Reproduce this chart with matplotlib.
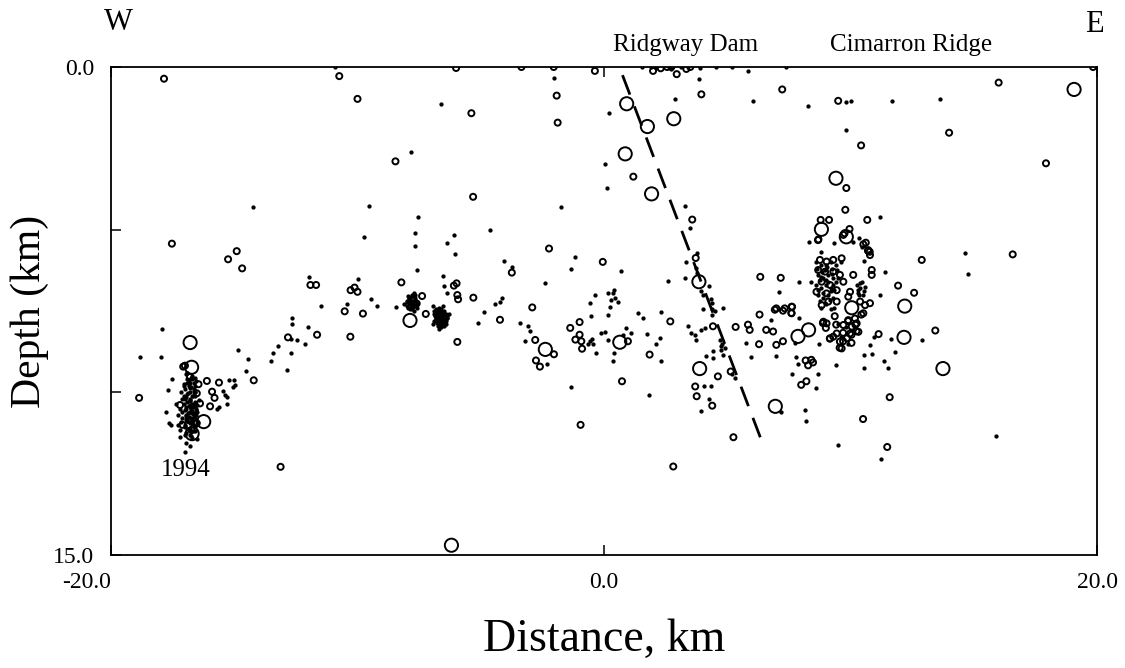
import matplotlib
matplotlib.use("Agg")
import matplotlib.pyplot as plt

plt.rcParams['font.family'] = ['Liberation Serif', 'DejaVu Serif']
plt.rcParams['lines.scale_dashes'] = False

# ---------------- data (distance km, depth km) ----------------
# small events (dots)
dot_x = [
    -2.04, 0.22, 2.88, 3.85, 6.03, 5.84, 1.54, 1.92, 2.12, 2.73, 3.14, 3.88, 4.56, -10.9, 5.2, 7.4,
    -6.63, -7.82, -14.25, -9.55, -7.56, -9.74, -7.67, -7.67, -7.60, -11.97, -9.98, -11.47, -10.41, -9.47, -9.20, -8.45, -6.92,
    0.03, 0.12, -1.73, 3.27, 3.50, 3.76, 3.31, 3.30, 3.74, 3.78, 2.60, 4.27, 3.95, 4.02, 4.35, 4.38,
    0.68, -1.18, -1.33, -2.38, -4.61, -6.09, -6.38, -6.06, -4.06, -3.74, -6.52, -6.49, -6.38,
    -4.12, -4.23, -4.43, -4.86, -5.12,
    -0.38, -0.58, 0.16, 0.37, 0.43, 0.30, 0.23, 0.57, 0.41,
    4.83, 4.38, 4.02,
    8.28, 9.80, 10.00, 11.67, 13.64, 9.80, 11.20,
    8.30, 8.82, 9.32, 10.33, 10.47, 10.55, 11.39, 7.90, 8.39, 7.10, 11.20, 14.63, 14.77, 10.11,
    -17.93, -18.81, -17.99, -14.86, -14.44, -14.53, -12.65, -12.65, -11.99, -12.68, -12.44, -12.12, -13.23, -13.43, -13.52, -12.70, -12.87,
    -15.20, -15.00, -14.97, -15.07, -15.47, -15.37, -15.30, -15.62, -15.28, -15.70,
    -17.53, -17.69, -17.75, -17.65, -17.56, -17.20, -16.94, -16.78, -16.99, -16.50,
    -3.42, -3.08, -3.01, -3.19, -2.30, -1.33, 1.83,
    -0.52, -0.11, 0.03, -0.31, 0.16, 0.91, 1.11, 0.77, 0.41, 0.37, 1.38, 1.58, 0.16, 2.12, 2.26, 1.76, 2.30, 2.30,
    3.41, 3.54, 3.74, 3.68, 3.95, 4.09, 4.38, 4.49, 4.69, 4.76, 4.83, 4.90, 4.13, 4.42, 4.42, 5.77, 5.95, 5.30, 5.20, 3.95, 4.35, 4.04, 4.25,
    6.79, 7.90, 7.74, 6.99, 7.77, 7.87, 7.63, 8.68, 8.59, 8.72, 9.42, 7.19, 8.17, 8.21, 9.49, 11.25,
    11.63, 12.91, 11.79, 11.36, 11.52, 10.54, 10.54, 10.87, 10.78, 10.96, 15.92,
    -0.58, -0.50, -0.65, -0.45, 4.80, 4.75,
    # 1994 swarm
    -16.9, -16.7, -16.8, -16.6, -17.0, -16.8, -16.6, -17.1, -16.9, -16.7, -16.5, -17.2, -17.0, -16.8, -16.6,
    -17.1, -16.9, -16.7, -16.5, -17.3, -17.0, -16.8, -16.6, -17.2, -16.9, -16.75, -16.95, -16.65, -16.85,
    -16.55, -17.05, -16.45, -17.15, -16.6, -16.8, -17.35, -17.3, -16.7, -17.0,
    -16.95, -16.75, -16.55, -17.05, -16.85, -16.65, -16.9, -16.7, -17.0, -16.8, -16.6, -16.95, -16.75, -16.55,
    -17.1, -16.85, -16.65, -16.9, -16.7, -16.8, -17.0, -16.6, -16.85, -16.75, -16.95, -16.65, -17.15, -16.5,
    -16.9, -16.7, -16.8, -17.05, -16.6, -16.75, -16.95,
    -16.92, -16.72, -16.82, -16.62, -17.02, -16.78, -16.58, -16.88, -16.68, -16.98, -16.78, -16.64, -16.84,
    -16.74, -16.94, -16.70, -16.86, -16.66, -16.96, -16.76, -16.56, -16.90, -16.80, -16.70, -16.60, -17.00,
    -16.88, -16.68, -16.78, -16.58,
    # blob near -7.8 km
    -8.0, -7.9, -7.8, -7.7, -7.85, -7.75, -7.65, -7.95, -7.8, -7.7, -8.1, -7.6,
    -7.95, -7.85, -7.75, -7.65, -7.9, -7.8, -7.7, -8.0, -7.85, -7.75, -7.6, -7.7,
    -7.92, -7.82, -7.72, -7.62, -7.88, -7.78, -7.68, -7.98, -7.84, -7.74,
    # blob near -6.6 km
    -6.9, -6.8, -6.7, -6.6, -6.5, -6.4, -6.85, -6.75, -6.65, -6.55, -6.45, -6.35, -6.9, -6.8, -6.7, -6.6,
    -6.5, -6.4, -6.75, -6.6, -6.3, -6.95, -6.55,
    -6.85, -6.75, -6.65, -6.55, -6.45, -6.35, -6.8, -6.7, -6.6, -6.5, -6.4, -6.75, -6.65, -6.55, -6.45, -6.7, -6.5,
    -6.88, -6.78, -6.68, -6.58, -6.48, -6.38, -6.82, -6.72, -6.62, -6.52, -6.42, -6.78, -6.68, -6.58, -6.48,
    # Cimarron Ridge cluster
    8.6, 8.8, 9.0, 9.2, 9.4, 9.6, 8.7, 8.9, 9.1, 9.3, 9.5, 8.6, 8.8, 9.0, 9.2, 9.4, 8.7, 8.9, 9.1, 9.3,
    8.8, 9.0, 9.2, 8.95, 9.25, 8.75, 9.35, 10.25, 10.4, 10.55, 10.35, 10.6, 10.45, 10.3,
    9.5, 9.8, 10.1, 9.6, 9.9,
    8.65, 8.85, 9.05, 9.25, 9.45, 8.7, 8.9, 9.1, 9.3, 8.75, 8.95, 9.15, 9.35, 8.8, 9.0, 9.2, 10.3, 10.5, 10.4,
]
dot_depth = [
    0.33, 1.40, 0.98, 0.37, 1.04, 0.12, 0.00, 0.00, 0.04, 0.07, 0.00, 0.04, 0.00, 0.00, 0.00, 0.00,
    1.13, 2.62, 4.29, 4.26, 4.62, 5.23, 5.09, 5.50, 6.24, 6.46, 6.53, 7.34, 7.28, 7.12, 7.34, 7.39, 7.35,
    2.98, 3.72, 4.31, 4.26, 4.96, 5.71, 5.98, 6.49, 6.19, 6.34, 6.57, 6.74, 6.90, 7.01, 7.14, 7.26,
    6.27, 5.85, 6.22, 6.63, 5.01, 5.16, 5.41, 5.76, 5.97, 6.15, 6.42, 6.73, 6.96,
    7.09, 7.21, 7.30, 7.52, 7.86,
    7.01, 7.25, 6.96, 6.96, 7.09, 7.16, 7.37, 7.21, 6.86,
    7.42, 7.45, 7.45,
    1.20, 1.09, 1.04, 1.04, 0.99, 1.94, 4.62,
    5.39, 5.68, 5.42, 5.27, 5.52, 5.95, 6.29, 6.60, 6.60, 6.91, 7.01, 5.71, 6.37, 5.39,
    8.06, 8.91, 8.91, 8.69, 8.97, 9.35, 7.73, 7.91, 7.99, 8.37, 8.40, 8.52, 8.57, 8.78, 9.05, 8.78, 9.31,
    9.62, 9.62, 9.78, 9.85, 9.95, 10.09, 10.15, 10.44, 10.36, 10.51,
    9.58, 9.92, 10.61, 10.94, 11.00, 11.38, 11.57, 11.64, 11.84, 11.44,
    7.88, 7.95, 8.11, 8.41, 9.13, 9.83, 10.08,
    7.66, 8.18, 8.15, 8.79, 8.38, 8.02, 8.18, 8.23, 8.79, 9.03, 7.56, 7.72, 7.63, 8.52, 8.33, 8.20, 9.03, 7.53,
    7.97, 8.18, 8.38, 8.23, 8.08, 8.02, 7.61, 7.49, 8.38, 8.59, 8.84, 8.64, 8.89, 8.95, 8.74, 8.48, 8.92, 9.56, 9.45, 10.56, 9.82, 9.82, 10.20,
    7.77, 7.72, 8.48, 8.89, 8.91, 9.13, 9.44, 9.44, 9.86, 8.51, 9.15, 10.60, 10.53, 10.89, 11.61, 12.06,
    8.35, 8.38, 8.75, 9.05, 9.25, 9.25, 8.84, 8.82, 8.56, 8.31, 11.34,
    8.43, 8.35, 8.50, 8.50, 8.50, 8.70,
    # 1994 swarm
    9.4, 9.5, 9.7, 9.8, 9.9, 10.0, 10.1, 10.2, 10.3, 10.35, 10.4, 10.5, 10.55, 10.6, 10.65,
    10.8, 10.85, 10.9, 10.95, 10.7, 11.05, 11.1, 11.2, 11.15, 9.6, 9.85, 10.15, 10.45, 10.75,
    10.7, 10.35, 10.25, 10.0, 9.55, 11.3, 10.35, 11.0, 11.4, 11.3,
    9.45, 9.55, 9.65, 9.75, 9.8, 9.9, 10.05, 10.1, 10.2, 10.25, 10.3, 10.45, 10.5, 10.55,
    10.6, 10.65, 10.75, 10.8, 10.85, 10.95, 11.0, 11.05, 11.15, 11.2, 11.25, 9.95, 10.9, 10.6,
    9.7, 10.65, 10.4, 10.1, 10.0, 11.35, 10.7,
    9.42, 9.58, 9.62, 9.72, 9.82, 9.88, 9.98, 10.02, 10.12, 10.18, 10.28, 10.38, 10.42,
    10.48, 10.52, 10.58, 10.62, 10.68, 10.72, 10.78, 10.82, 10.88, 10.92, 10.98, 11.02, 11.08,
    11.12, 11.18, 10.22, 10.32,
    # blob near -7.8 km
    7.2, 7.1, 7.0, 6.95, 7.3, 7.2, 7.1, 7.4, 7.45, 7.35, 7.3, 7.25,
    7.05, 7.15, 7.25, 7.15, 7.25, 7.35, 7.05, 7.35, 7.45, 7.0, 7.4, 7.5,
    7.12, 7.22, 7.18, 7.32, 7.42, 7.28, 7.02, 7.22, 7.08, 7.38,
    # blob near -6.6 km
    7.5, 7.45, 7.4, 7.45, 7.5, 7.6, 7.65, 7.6, 7.55, 7.65, 7.75, 7.7, 7.8, 7.75, 7.8, 7.85,
    7.8, 7.9, 7.95, 8.0, 7.6, 7.9, 7.35,
    7.55, 7.5, 7.5, 7.55, 7.6, 7.65, 7.7, 7.7, 7.65, 7.7, 7.8, 7.85, 7.9, 7.9, 7.85, 8.05, 7.95,
    7.58, 7.52, 7.48, 7.52, 7.58, 7.72, 7.82, 7.62, 7.72, 7.62, 7.70, 7.88, 7.92, 7.80, 7.92,
    # Cimarron Ridge cluster
    6.0, 6.1, 6.1, 6.0, 6.1, 6.0, 6.4, 6.5, 6.4, 6.5, 6.5, 6.7, 6.8, 6.7, 6.8, 6.6, 7.0, 7.1, 7.0, 7.1,
    7.4, 7.3, 7.45, 6.25, 6.2, 6.55, 6.85, 6.7, 6.8, 6.9, 7.0, 6.75, 6.6, 6.95,
    7.9, 8.0, 8.1, 8.3, 8.5,
    6.2, 6.3, 6.15, 6.35, 6.25, 6.85, 6.95, 6.6, 6.7, 7.2, 7.25, 7.15, 7.4, 6.45, 6.55, 6.9, 6.85, 7.0, 6.65,
]

# medium events (small open circles)
small_x = [
    -17.85, -10.74, -10.00, -8.46, -6.00, -3.35, -2.04, -0.37, -5.38, -1.92, -1.88, 1.19, -5.31, 3.95,
    1.99, 2.30, 2.56, 2.73, 2.95, 3.34, 3.50,
    7.23, 9.50, 16.01, 19.84, 10.43, 14.00, 17.93, 9.83, 9.79, 8.79, 9.13, 8.68, 10.68, 9.76, 9.96,
    10.62, 10.71, 10.78, 9.71, 10.52, 10.72, 10.79, 10.86, 10.86, 8.70, 12.89, 16.58, 7.17, 11.93, 12.58,
    6.99, 7.33, 7.63, 3.58, 3.72, 6.34, -0.05, -3.74, -2.23, -6.09, -5.98, -5.95, -5.92, -5.30, -2.91,
    -17.53, -14.90, -15.25, -14.68, -11.91, -11.68, -8.22, -10.28, -10.12, -10.00, -7.38, -7.60,
    -10.52, -9.78, -7.23, -12.82, -11.64, -10.29, -14.21, -16.11, -15.62, -15.90, -15.80, -15.98, -18.86,
    -17.00, -13.12,
    -4.22, -5.95, -2.79, -2.03, -2.76, -2.60, -0.95, 0.73, 2.81, -1.37, -0.99, -0.99, -0.92, -0.89, -1.16,
    0.97, 1.85, 2.69, 4.42, 5.34, 5.84, 5.91, 6.31, 6.58, 6.29, 4.62, 5.14, 3.70, 3.76, 4.39, 5.25,
    6.93, 7.26, 7.60, 6.86, 6.99, 7.26, 8.18, 8.41, 8.28, 8.48, 8.00, 8.21, 10.51, 11.49, 11.59, 11.14, 13.44, 9.17,
    8.88, 9.16, 9.36, 9.42, 9.56, 9.70, 9.70, 9.90, 10.04, 10.04, 10.20, 10.24, 10.44, 9.00,
    8.76, 9.03, 9.30, 9.64, 8.69, 8.97, 9.30, 9.57, 8.83, 9.17, 8.62, 9.03, 9.44, 9.71, 8.83, 9.10, 9.44,
    10.11, 9.98, 9.91, 10.39, 10.59, 10.79, 10.52, 10.18, 9.91, 9.71, 10.05, 10.25, 10.32, 9.98, 9.85,
    9.57, 9.64, 9.30, 9.03, 8.90, 9.44, 7.61, 7.61,
    -17.07, -16.80, -16.52, -16.39, -17.20, -16.86, -16.52, -16.73, -16.45, -17.10, -16.60,
]
small_depth = [
    0.36, 0.28, 0.98, 2.90, 0.03, 0.00, 0.00, 0.12, 1.42, 0.88, 1.71, 3.37, 3.99, 0.84,
    0.12, 0.04, 0.00, 0.00, 0.22, 0.06, 0.00,
    0.69, 1.04, 0.48, 0.00, 2.41, 2.02, 2.96, 3.72, 4.39, 4.70, 4.70, 5.32, 4.70, 5.11, 4.98,
    5.40, 5.65, 5.68, 5.16, 5.45, 5.63, 5.78, 6.24, 6.39, 5.30, 5.93, 5.76, 6.48, 6.72, 6.94,
    7.42, 7.42, 7.37, 4.69, 5.87, 6.45, 5.99, 6.32, 5.58, 6.72, 6.65, 7.01, 7.14, 7.09, 7.39,
    5.43, 5.66, 5.91, 6.19, 6.70, 6.70, 6.62, 6.86, 6.78, 6.91, 7.04, 7.27,
    7.51, 7.58, 7.59, 8.31, 8.23, 8.29, 9.63, 9.65, 9.70, 9.98, 10.17, 10.43, 10.17,
    9.18, 12.29,
    7.77, 8.45, 8.39, 8.83, 9.02, 9.21, 11.00, 9.66, 12.28, 8.02, 7.84, 8.23, 8.43, 8.66, 8.38,
    8.43, 8.84, 7.82, 7.97, 7.99, 7.92, 8.08, 7.61, 8.08, 8.52, 9.51, 9.36, 9.82, 10.12, 10.41, 11.38,
    7.46, 7.49, 7.56, 8.13, 8.54, 8.43, 9.02, 9.00, 9.17, 9.08, 9.77, 9.66, 10.82, 11.68, 10.15, 8.21, 8.10, 8.34,
    7.87, 8.35, 7.66, 7.92, 8.63, 8.17, 8.43, 7.81, 8.23, 8.48, 7.92, 8.12, 7.61, 8.02,
    5.93, 5.98, 5.93, 5.88, 6.24, 6.29, 6.29, 6.39, 6.60, 6.70, 6.91, 6.96, 6.86, 6.60, 7.32, 7.21, 7.21,
    6.39, 6.91, 7.06, 7.21, 7.32, 7.26, 7.57, 7.73, 7.78, 7.93, 7.98, 7.88, 8.14, 8.19, 8.34,
    8.44, 8.65, 8.29, 7.88, 7.83, 8.19, 7.37, 7.57,
    9.21, 9.52, 10.03, 10.34, 10.39, 10.85, 10.95, 11.16, 9.75, 11.0, 10.55,
]

# larger events (large open circles)
large_x = [0.92, 1.76, 2.83, 0.86, 1.93, 19.07, 9.41, 8.82, 9.83, -7.87, -16.79, -16.73, -16.24,
           -16.71, -2.38, 0.64, 3.88, 3.85, -6.19, 6.95, 7.87, 8.30, 12.17, 13.75, 12.20, 10.05]
large_depth = [1.13, 1.83, 1.59, 2.67, 3.90, 0.69, 3.42, 4.99, 5.22, 7.79, 8.47, 9.23, 10.90,
               11.27, 8.68, 8.46, 9.27, 6.60, 14.70, 10.43, 8.28, 8.08, 8.31, 9.27, 7.35, 7.40]

# inferred fault (dashed line)
fault_x = [0.75, 6.40]
fault_depth = [0.25, 11.50]

x_ticks = [-20, 0, 20]
x_ticklabels = ['-20.0', '0.0', '20.0']
y_ticks = [0, 5, 10, 15]
y_ticklabels = ['0.0', '', '', '15.0']

# ---------------- figure ----------------
W, H = 1125, 668
fig = plt.figure(figsize=(W / 100, H / 100), dpi=100)
ax = fig.add_axes([111 / W, 1 - 555 / H, 986 / W, 488 / H])

ax.plot(fault_x, fault_depth, color='black', lw=2.0, dashes=(15, 9), zorder=1)
ax.scatter(dot_x, dot_depth, s=9.5, c='black', linewidths=0, zorder=3)
ax.scatter(small_x, small_depth, s=19, facecolors='none', edgecolors='black', linewidths=1.4, zorder=2)
ax.scatter(large_x, large_depth, s=90, facecolors='none', edgecolors='black', linewidths=1.4, zorder=2)

ax.set_xlim(-20, 20)
ax.set_ylim(15, 0)
ax.set_xticks(x_ticks)
ax.set_xticklabels(x_ticklabels)
ax.set_yticks(y_ticks)
ax.set_yticklabels(y_ticklabels)
ax.tick_params(axis='both', direction='in', length=7, width=1.1, labelsize=17, top=True)
ax.tick_params(axis='x', pad=12)
ax.tick_params(axis='y', pad=12)
ax.get_xticklabels()[0].set_horizontalalignment('right')
for sp in ax.spines.values():
    sp.set_linewidth(1.3)

ax.set_xlabel('Distance, km', fontsize=33, va='center', ha='center')
ax.xaxis.set_label_coords(0.5, -0.174)
ax.set_ylabel('Depth (km)', fontsize=30, va='center', ha='center')
ax.yaxis.set_label_coords((30 - 111) / 986, 0.5)

ax.text(-16.96, 12.39, '1994', fontsize=18, ha='center', va='center')

fig.text(118 / W, 1 - 23 / H, 'W', fontsize=22, ha='center', va='center')
fig.text(1094 / W, 1 - 25 / H, 'E', fontsize=22, ha='center', va='center')
fig.text(686 / W, 1 - 45 / H, 'Ridgway Dam', fontsize=18, ha='center', va='center')
fig.text(911 / W, 1 - 45 / H, 'Cimarron Ridge', fontsize=18, ha='center', va='center')

fig.savefig('out.png', dpi=100)
